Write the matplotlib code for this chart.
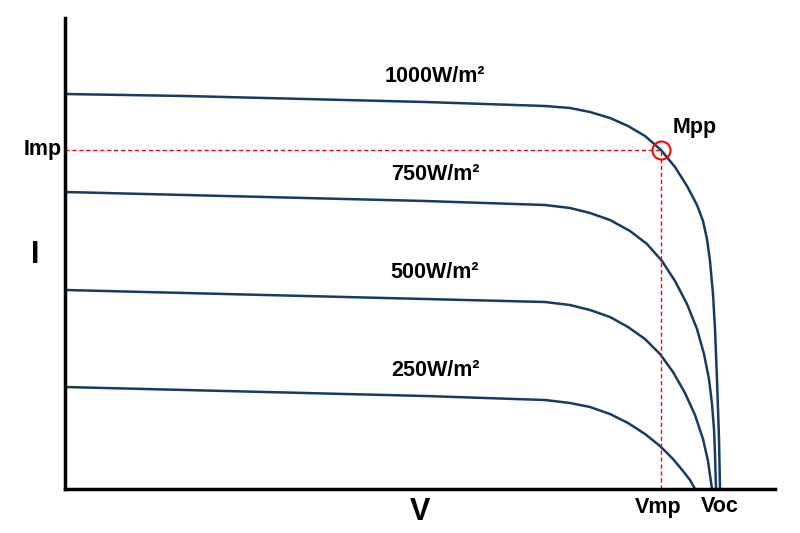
import matplotlib
matplotlib.use("Agg")
import matplotlib.pyplot as plt

plt.rcParams['font.family'] = ['Liberation Sans', 'DejaVu Sans']

# schematic I-V curves (x = voltage, y = current, arbitrary units)
v1000 = [0, 120, 240, 360, 480, 505, 525, 545, 563, 580, 596, 610, 622, 632, 638, 642, 645, 648, 650, 652, 654, 655]
i1000 = [395, 393, 390, 387, 383, 381, 377, 371, 363, 353, 339, 322, 303, 284, 268, 250, 228, 195, 160, 110, 50, 0]
v750 = [0, 120, 240, 360, 480, 505, 525, 545, 565, 582, 597, 610, 622, 632, 639, 644, 647, 649, 650, 651]
i750 = [297, 294, 291, 288, 284, 281, 276, 269, 258, 245, 228, 208, 185, 160, 135, 110, 85, 60, 35, 0]
v500 = [0, 120, 240, 360, 480, 505, 525, 545, 563, 580, 595, 608, 620, 630, 638, 643, 647]
i500 = [199, 196, 193, 190, 187, 184, 179, 172, 162, 150, 135, 117, 96, 74, 50, 28, 0]
v250 = [0, 120, 240, 360, 480, 505, 525, 545, 563, 580, 595, 608, 618, 625, 630]
i250 = [102, 99, 96, 93, 89, 86, 82, 75, 66, 55, 43, 30, 18, 9, 0]
curve_labels = ["1000W/m²", "750W/m²", "500W/m²", "250W/m²"]
vmp, imp = 596, 339

fig = plt.figure(figsize=(8, 5.33), dpi=100)
ax = fig.add_axes([65/800, 44/533, 710/800, 471/533])
ax.set_xlim(0, 710)
ax.set_ylim(0, 471)
for s in ['top', 'right']:
    ax.spines[s].set_visible(False)
for s in ['left', 'bottom']:
    ax.spines[s].set_linewidth(2.5)
ax.set_xticks([]); ax.set_yticks([])

col = '#173c64'
curves = [(v1000, i1000), (v750, i750), (v500, i500), (v250, i250)]
for (v, i), lab in zip(curves, curve_labels):
    ax.plot(v, i, color=col, lw=1.8)
    ax.text(370, i[0] + 17, lab, fontsize=15.5, fontweight='bold', ha='center', va='center')

ax.plot([0, vmp], [imp, imp], color='red', lw=1, ls=(0, (3, 2)))
ax.plot([vmp, vmp], [0, imp], color='red', lw=1, ls=(0, (3, 2)))
ax.plot([vmp], [imp], 'o', ms=13, mfc='none', mec='red', mew=1.5)
ax.text(608, 361, "Mpp", fontsize=15.5, fontweight='bold', ha='left', va='center')

ax.text(-3, imp, "Imp", fontsize=15.5, fontweight='bold', ha='right', va='center', clip_on=False)
ax.text(-30, 234, "I", fontsize=22, fontweight='bold', ha='center', va='center', clip_on=False)
ax.text(355, -23, "V", fontsize=22, fontweight='bold', ha='center', va='center', clip_on=False)
ax.text(vmp-3, -18, "Vmp", fontsize=15.5, fontweight='bold', ha='center', va='center', clip_on=False)
ax.text(655, -18, "Voc", fontsize=15.5, fontweight='bold', ha='center', va='center', clip_on=False)

fig.savefig("out.png", dpi=100)
